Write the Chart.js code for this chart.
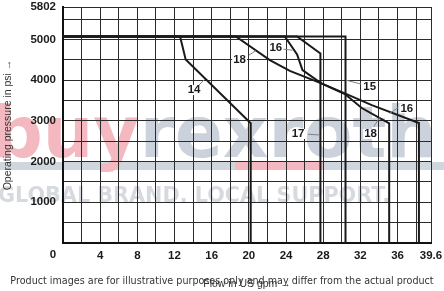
<!DOCTYPE html>
<html>
<head>
<meta charset="utf-8">
<script src="https://cdn.jsdelivr.net/npm/chart.js@4"></script>
<style>
  html, body { margin: 0; padding: 0; background: #fff; overflow: hidden; }
  #wrap { width: 444px; height: 291px; }
</style>
</head>
<body>
<div id="wrap"><canvas id="chart"></canvas></div>
<script>
// axis ticks
const flowGrid = [0, 2, 4, 6, 8, 10, 12, 14, 16, 18, 20, 22, 24, 26, 28, 30, 32, 34, 36, 38, 39.6];
const flowLabels = [0, 4, 8, 12, 16, 20, 24, 28, 32, 36, 39.6];
const pressureGrid = [0, 500, 1000, 1500, 2000, 2500, 3000, 3500, 4000, 4500, 5000, 5500, 5802];
const pressureLabels = [1000, 2000, 3000, 4000, 5000, 5802];

// characteristic curves, [flow gpm, pressure psi]
const curve14 = [[0, 5076], [12.6, 5076], [13.2, 4512], [20.2, 2943], [20.2, 0]];
const curve15 = [[0, 5076], [30.4, 5076], [30.4, 0]];
const curve16 = [[0, 5076], [23.87, 5076], [25.19, 4635], [25.77, 4250], [27.8, 3923], [30.33, 3678], [33.23, 3391], [38.3, 2950], [38.3, 0]];
const curve17 = [[0, 5076], [25.19, 5076], [27.7, 4659], [27.7, 0]];
const curve18 = [[0, 5076], [18.6, 5076], [22.26, 4495], [24.41, 4232], [27.8, 3923], [30.33, 3661], [32.15, 3318], [35.1, 2943], [35.1, 0]];

// curve tags and their leader lines
const tagText = ["14", "18", "16", "15", "16", "18", "17"];
const tagFlow = [14.1, 19.0, 22.9, 33.0, 37.0, 33.1, 25.3];
const tagPsi = [3760, 4495, 4790, 3840, 3310, 2680, 2680];
const leaderFrom = [[14.52, 3857], [20.0, 4617], [23.71, 4765], [32.1, 3906], [36.05, 3325], [33.44, 2859], [26.38, 2673]];
const leaderTo = [[15.27, 4029], [20.75, 4728], [24.68, 4740], [30.45, 4004], [35.16, 3188], [34.09, 3090], [27.6, 2656]];

const tickFont = { family: "Liberation Sans", size: 11.5, weight: "bold" };
const ink = "#1a1a1a";

function line(pts) {
    return {
        data: pts.map(p => ({ x: p[0], y: p[1] })),
        showLine: true, borderColor: ink, borderWidth: 2,
        pointRadius: 0, fill: false, tension: 0
    };
}

// fixed axis box, no extra room for edge labels
function fixBox(s, w, h) {
    if (w) s.width = w;
    if (h) s.height = h;
    s.paddingTop = 0; s.paddingBottom = 0; s.paddingLeft = 0; s.paddingRight = 0;
}

const extras = {
    id: "extras",
    beforeDraw(chart) {
        // faint shop watermark behind everything
        const ctx = chart.ctx;
        ctx.save();
        ctx.fillStyle = "#d0d6de";
        ctx.fillRect(0, 162, chart.width, 8);
        ctx.fillStyle = "#f4b8c0";
        ctx.fillRect(235, 162, 89, 8);
        ctx.font = 'bold 71px "DejaVu Sans"';
        ctx.textBaseline = "alphabetic";
        ctx.fillText("buy", -8, 157);
        const w = ctx.measureText("buy").width;
        ctx.fillStyle = "#ccd2db";
        ctx.fillText("rexroth", -8 + w, 157);
        const slogan = "GLOBAL BRAND. LOCAL SUPPORT.";
        ctx.font = 'bold 27px "DejaVu Sans"';
        const sz = 27 * 392 / ctx.measureText(slogan).width;
        ctx.font = 'bold ' + sz.toFixed(2) + 'px "DejaVu Sans"';
        ctx.fillStyle = "#d6dadf";
        ctx.fillText(slogan, -2, 202);
        ctx.restore();
    },
    afterDatasetsDraw(chart) {
        const { ctx, scales: { x, y } } = chart;
        ctx.save();
        ctx.strokeStyle = "#808080";
        ctx.lineWidth = 1;
        leaderFrom.forEach((a, i) => {
            const b = leaderTo[i];
            ctx.beginPath();
            ctx.moveTo(x.getPixelForValue(a[0]), y.getPixelForValue(a[1]));
            ctx.lineTo(x.getPixelForValue(b[0]), y.getPixelForValue(b[1]));
            ctx.stroke();
        });
        ctx.font = 'bold 11.5px "Liberation Sans"';
        ctx.textAlign = "center";
        ctx.textBaseline = "middle";
        tagText.forEach((t, i) => {
            const px = x.getPixelForValue(tagFlow[i]);
            const py = y.getPixelForValue(tagPsi[i]);
            const tw = ctx.measureText(t).width;
            ctx.fillStyle = "#fff";
            ctx.fillRect(px - tw / 2 - 1, py - 5, tw + 2, 10);
            ctx.fillStyle = ink;
            ctx.fillText(t, px, py);
        });
        ctx.restore();
    },
    afterDraw(chart) {
        const { ctx, scales: { x } } = chart;
        ctx.save();
        ctx.font = 'bold 11.5px "Liberation Sans"';
        ctx.textAlign = "center";
        ctx.textBaseline = "middle";
        ctx.fillStyle = ink;
        ctx.fillText("0", x.left - 10, x.top + 12);
        // disclaimer overprinted on the picture
        const note = "Product images are for illustrative purposes only and may differ from the actual product";
        ctx.font = '9px "DejaVu Sans"';
        const sz = 9 * 424 / ctx.measureText(note).width;
        ctx.font = sz.toFixed(2) + 'px "DejaVu Sans"';
        ctx.fillStyle = "#333";
        ctx.fillText(note, chart.width / 2, 281);
        ctx.restore();
    }
};

new Chart(document.getElementById("chart"), {
    type: "scatter",
    data: { datasets: [curve14, curve15, curve16, curve17, curve18].map(line) },
    options: {
        responsive: true,
        maintainAspectRatio: false,
        animation: false,
        layout: { padding: { top: 7, right: 13, left: 0, bottom: 0 } },
        plugins: { legend: { display: false }, tooltip: { enabled: false } },
        scales: {
            x: {
                type: "linear", min: 0, max: 39.6,
                afterBuildTicks: s => { s.ticks = flowGrid.map(v => ({ value: v })); },
                afterFit: s => fixBox(s, 0, 48),
                ticks: {
                    autoSkip: false, maxRotation: 0, padding: 6, color: ink, font: tickFont,
                    callback: v => (v !== 0 && flowLabels.includes(v)) ? String(v) : ""
                },
                grid: { color: "#2b2b2b", lineWidth: 1, drawTicks: false },
                border: { display: true, color: "#111", width: 2 },
                title: {
                    display: true, text: "Flow in US gpm →", color: "#333",
                    font: { family: "Liberation Sans", size: 10.5 }, padding: { top: 0, bottom: 1 }
                }
            },
            y: {
                type: "linear", min: 0, max: 5802,
                afterBuildTicks: s => { s.ticks = pressureGrid.map(v => ({ value: v })); },
                afterFit: s => fixBox(s, 63, 0),
                ticks: {
                    autoSkip: false, padding: 7, color: ink, font: tickFont,
                    callback: v => pressureLabels.includes(v) ? String(v) : ""
                },
                grid: { color: "#2b2b2b", lineWidth: 1, drawTicks: false },
                border: { display: true, color: "#111", width: 2 },
                title: {
                    display: true, text: "Operating pressure in psi →", color: "#333",
                    font: { family: "Liberation Sans", size: 10.5 }, padding: { top: 2, bottom: 0 }
                }
            }
        }
    },
    plugins: [extras]
});
</script>
</body>
</html>
